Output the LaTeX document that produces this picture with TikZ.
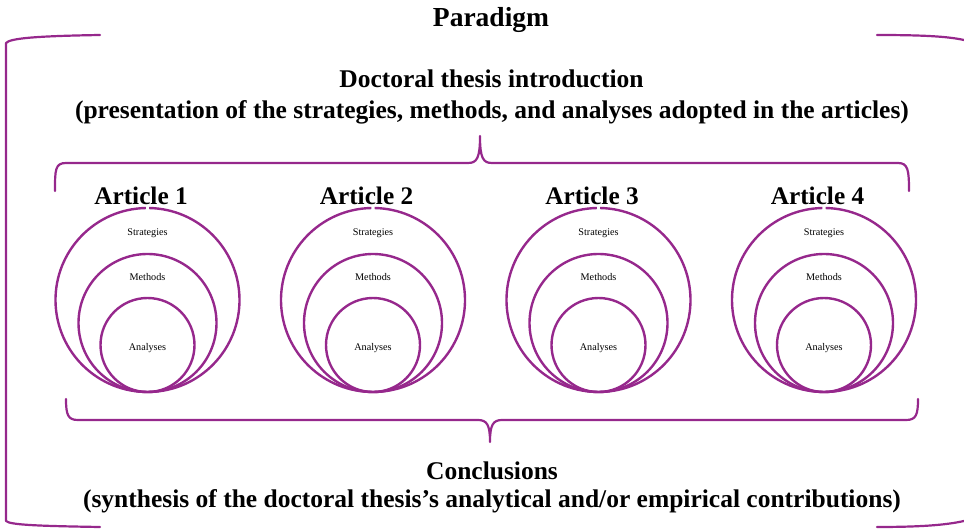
\documentclass[tikz,border=0pt]{standalone}
\usepackage{fontspec}
\setmainfont{Liberation Serif}
\definecolor{purp}{RGB}{150,40,140}
\begin{document}
\begin{tikzpicture}[x=1pt,y=-1pt]
\useasboundingbox (0,0) rectangle (964,529);
\tikzset{
 brk/.style={draw=purp, line width=2.2pt, line cap=round, line join=round},
 ring/.style={draw=purp, line width=2.4pt},
 maintitle/.style={font=\bfseries\fontsize{27.5}{30}\selectfont, inner sep=0pt},
 head/.style={font=\bfseries\fontsize{25.5}{28}\selectfont, inner sep=0pt},
 arttitle/.style={font=\bfseries\fontsize{25.3}{28}\selectfont, inner sep=0pt},
 small/.style={font=\fontsize{10.2}{12}\selectfont, inner sep=0pt},
}
% texts
\node[maintitle] (paradigm) at (491,20) {Paradigm};
\node[head] (intro1) at (491.5,78.5) {Doctoral thesis introduction};
\node[head] (intro2) at (492,112) {(presentation of the strategies, methods, and analyses adopted in the articles)};
\node[head] (concl1) at (492,471) {Conclusions};
\node[head] (concl2) at (492,501) {(synthesis of the doctoral thesis’s analytical and/or empirical contributions)};
% outer bracket
\draw[brk] (100,35) .. controls (40,36) and (10,38) .. (6,43) -- (6,521) .. controls (10,525) and (40,526) .. (100,527);
\draw[brk] (877,35) .. controls (930,35) and (950,37) .. (964,40);
\draw[brk] (877,527) .. controls (930,527) and (950,524) .. (964,521);
% top brace
\draw[brk] (55,191) .. controls (55,170) and (55,163) .. (66,163) -- (468,163)
  .. controls (477,163) and (480,158) .. (480,136)
  .. controls (480,158) and (483,163) .. (492,163) -- (898,163)
  .. controls (908,163) and (909,170) .. (909,191);
% bottom brace
\draw[brk] (66,399) .. controls (66,415) and (68,420) .. (78,420) -- (478,420)
  .. controls (487,420) and (490,425) .. (490,442)
  .. controls (490,425) and (493,420) .. (502,420) -- (906,420)
  .. controls (916,420) and (918,415) .. (918,399);
% articles
\foreach \i in {1,...,4}{
  \pgfmathsetmacro\cx{147.5+(\i-1)*225.5}
  \coordinate (c\i) at (\cx,300);
  \draw[ring] (c\i) ++(91:92pt) arc[start angle=91, end angle=449, radius=92pt];
  \draw[ring] (\cx,323) circle[radius=69pt];
  \draw[ring] (\cx,345) circle[radius=47pt];
  \node[arttitle] (art\i) at (\cx-6.5,196) {Article \i};
  \node[small] (str\i) at (\cx,233.5) {Strategies};
  \node[small] (met\i) at (\cx,277.5) {Methods};
  \node[small] (ana\i) at (\cx,348.5) {Analyses};
}
\end{tikzpicture}
\end{document}
